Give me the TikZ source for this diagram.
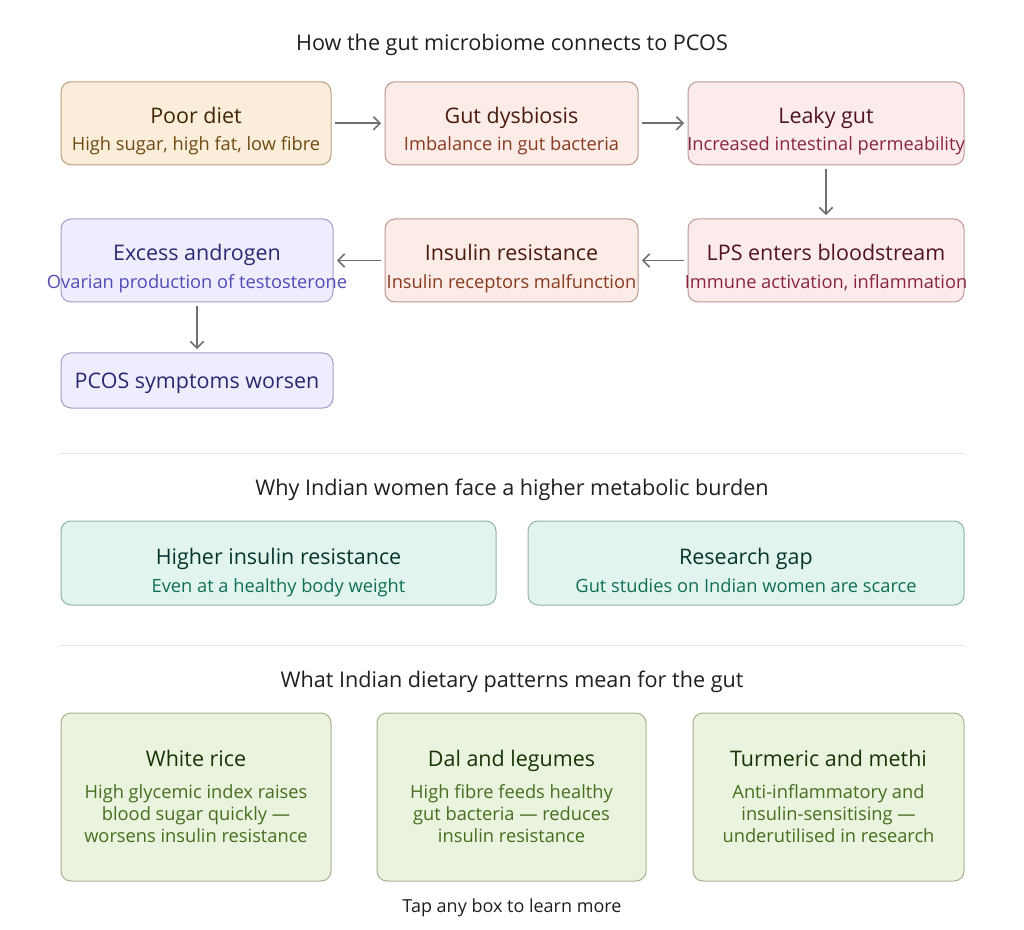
\documentclass[tikz,border=0pt]{standalone}
\usepackage{fontspec}
\setmainfont{Open Sans}
\usetikzlibrary{arrows.meta}

\definecolor{amberfill}{HTML}{FAEEDA}
\definecolor{amberline}{HTML}{B9A07F}
\definecolor{amberdark}{HTML}{412402}
\definecolor{ambertext}{HTML}{6E4A10}
\definecolor{coralfill}{HTML}{FBECE7}
\definecolor{coralline}{HTML}{BC978D}
\definecolor{coraldark}{HTML}{4A1B0C}
\definecolor{coraltext}{HTML}{8A3A1E}
\definecolor{redfill}{HTML}{FCEBEB}
\definecolor{redline}{HTML}{BE9797}
\definecolor{reddark}{HTML}{501320}
\definecolor{redtext}{HTML}{8A2440}
\definecolor{purplefill}{HTML}{EEEDFE}
\definecolor{purpleline}{HTML}{A19DC6}
\definecolor{purpledark}{HTML}{2C2870}
\definecolor{purpletext}{HTML}{534AB7}
\definecolor{tealfill}{HTML}{E1F5EE}
\definecolor{tealline}{HTML}{8FB3A6}
\definecolor{tealdark}{HTML}{04342C}
\definecolor{tealtext}{HTML}{0F6E56}
\definecolor{greenfill}{HTML}{EAF3DE}
\definecolor{greenline}{HTML}{A5B290}
\definecolor{greendark}{HTML}{173404}
\definecolor{greentext}{HTML}{466E1E}
\definecolor{arrowgray}{HTML}{707070}
\definecolor{rulegray}{HTML}{E4E4E4}
\definecolor{headtext}{HTML}{1F1F1F}

\tikzset{every picture/.style={line width=0.75pt}}
\tikzset{
  box/.style={rounded corners=7.5pt, line width=0.75pt, inner sep=0pt},
  ttl/.style={anchor=base, inner sep=0pt, font=\fontsize{16.1}{19}\selectfont},
  sub/.style={anchor=base, inner sep=0pt, font=\fontsize{13.7}{16.5}\selectfont},
  head/.style={anchor=base, inner sep=0pt, text=headtext, font=\fontsize{16.2}{19}\selectfont},
  flow/.style={draw=arrowgray, line width=1.2pt, -{Straight Barb[length=5pt,width=10pt]}, shorten >=2.5pt, shorten <=2.5pt}
}

\begin{document}
\begin{tikzpicture}[x=0.75pt,y=0.75pt,yscale=-1,xscale=1]
    \useasboundingbox (0,0) rectangle (1024,930);
    \fill [white] (0,0) rectangle (1024,930);

    % Heading
    \node [head] (headA) at (512,51) {How the gut microbiome connects to PCOS};

    %Rounded Rect: Poor diet
    \node [box, fill=amberfill, draw=amberline, minimum width=202.5pt, minimum height=62.25pt] (diet) at (196,123.3) {};
    \node [ttl, text=amberdark] (dietT) at (196,124) {Poor diet};
    \node [sub, text=ambertext] (dietS) at (196,151) {High sugar, high fat, low fibre};
    %Rounded Rect: Gut dysbiosis
    \node [box, fill=coralfill, draw=coralline, minimum width=189.75pt, minimum height=62.25pt] (dysb) at (511.5,123.3) {};
    \node [ttl, text=coraldark] (dysbT) at (511.5,124) {Gut dysbiosis};
    \node [sub, text=coraltext] (dysbS) at (511.5,151) {Imbalance in gut bacteria};
    %Rounded Rect: Leaky gut
    \node [box, fill=redfill, draw=redline, minimum width=207pt, minimum height=62.25pt] (leaky) at (826,123.3) {};
    \node [ttl, text=reddark] (leakyT) at (826,124) {Leaky gut};
    \node [sub, text=redtext] (leakyS) at (826,151) {Increased intestinal permeability};

    %Rounded Rect: LPS
    \node [box, fill=redfill, draw=redline, minimum width=207pt, minimum height=62.25pt] (lps) at (826,260.5) {};
    \node [ttl, text=reddark] (lpsT) at (826,261) {LPS enters bloodstream};
    \node [sub, text=redtext] (lpsS) at (826,289) {Immune activation, inflammation};
    %Rounded Rect: Insulin resistance
    \node [box, fill=coralfill, draw=coralline, minimum width=189.75pt, minimum height=62.25pt] (insr) at (511.5,260.5) {};
    \node [ttl, text=coraldark] (insrT) at (511.5,261) {Insulin resistance};
    \node [sub, text=coraltext] (insrS) at (511.5,289) {Insulin receptors malfunction};
    %Rounded Rect: Excess androgen
    \node [box, fill=purplefill, draw=purpleline, minimum width=204pt, minimum height=62.25pt] (andr) at (197,260.5) {};
    \node [ttl, text=purpledark] (andrT) at (197,261) {Excess androgen};
    \node [sub, text=purpletext] (andrS) at (197,289) {Ovarian production of testosterone};
    %Rounded Rect: PCOS symptoms
    \node [box, fill=purplefill, draw=purpleline, minimum width=204pt, minimum height=41.25pt] (pcos) at (197,380.5) {};
    \node [ttl, text=purpledark] (pcosT) at (197,388) {PCOS symptoms worsen};

    %Straight Lines
    \draw [flow] (diet.east) -- (dysb.west);
    \draw [flow] (dysb.east) -- (leaky.west);
    \draw [flow] (leaky.south) -- (lps.north);
    \draw [flow] (lps.west) -- (insr.east);
    \draw [flow] (insr.west) -- (andr.east);
    \draw [flow] (andr.south) -- (pcos.north);

    % Divider
    \draw [rulegray, line width=0.75pt] (60,453) -- (964,453);
    \node [head] (headB) at (512,495) {Why Indian women face a higher metabolic burden};

    %Rounded Rect: Higher insulin resistance
    \node [box, fill=tealfill, draw=tealline, minimum width=326.25pt, minimum height=63pt] (hir) at (278.5,563) {};
    \node [ttl, text=tealdark] (hirT) at (278.5,564) {Higher insulin resistance};
    \node [sub, text=tealtext] (hirS) at (278.5,592) {Even at a healthy body weight};
    %Rounded Rect: Research gap
    \node [box, fill=tealfill, draw=tealline, minimum width=327pt, minimum height=63pt] (gap) at (746,563) {};
    \node [ttl, text=tealdark] (gapT) at (746,564) {Research gap};
    \node [sub, text=tealtext] (gapS) at (746,592) {Gut studies on Indian women are scarce};

    % Divider
    \draw [rulegray, line width=0.75pt] (60,645) -- (964,645);
    \node [head] (headC) at (512,687) {What Indian dietary patterns mean for the gut};

    %Rounded Rect: White rice
    \node [box, fill=greenfill, draw=greenline, minimum width=202.5pt, minimum height=126pt] (rice) at (196,797) {};
    \node [ttl, text=greendark] (riceT) at (196,766) {White rice};
    \node [sub, text=greentext, anchor=center, align=center] (riceS) at (196,814) {High glycemic index raises\\blood sugar quickly —\\worsens insulin resistance};
    %Rounded Rect: Dal and legumes
    \node [box, fill=greenfill, draw=greenline, minimum width=201.75pt, minimum height=126pt] (dal) at (511.5,797) {};
    \node [ttl, text=greendark] (dalT) at (511.5,766) {Dal and legumes};
    \node [sub, text=greentext, anchor=center, align=center] (dalS) at (511.5,814) {High fibre feeds healthy\\gut bacteria — reduces\\insulin resistance};
    %Rounded Rect: Turmeric and methi
    \node [box, fill=greenfill, draw=greenline, minimum width=203.25pt, minimum height=126pt] (meth) at (828.5,797) {};
    \node [ttl, text=greendark] (methT) at (828.5,766) {Turmeric and methi};
    \node [sub, text=greentext, anchor=center, align=center] (methS) at (828.5,814) {Anti-inflammatory and\\insulin-sensitising —\\underutilised in research};

    % Footer
    \node [sub, text=headtext, font=\fontsize{13.5}{16}\selectfont] (foot) at (512,912) {Tap any box to learn more};

\end{tikzpicture}
\end{document}
